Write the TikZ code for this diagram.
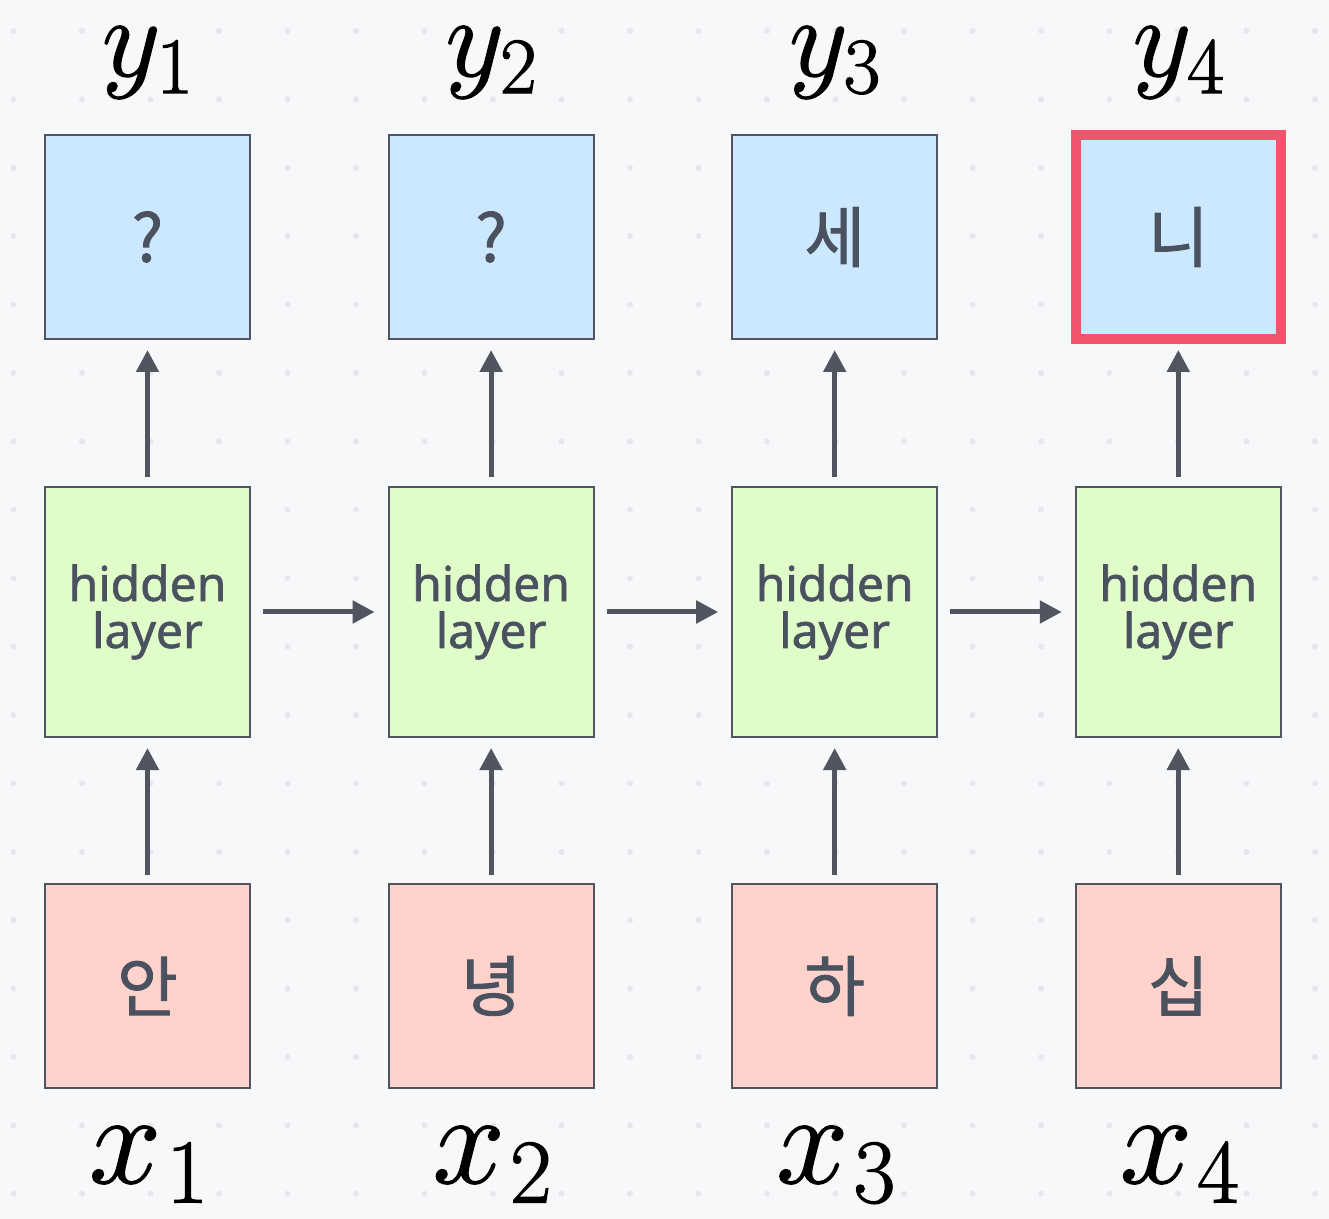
\RequirePackage{fix-cm}
\documentclass[tikz,border=0pt]{standalone}
\usepackage{fontspec}
\setmainfont{Noto Sans}
\newfontfamily\hid{Noto Sans}[FakeBold=1.3]
\newfontfamily\kr{Noto Sans CJK KR}[FakeBold=1.3]
\usetikzlibrary{arrows.meta}
\definecolor{bgcol}{HTML}{F7F8FA}
\definecolor{dotcol}{HTML}{E6E7EB}
\definecolor{linecol}{HTML}{50555F}
\definecolor{txtcol}{HTML}{4A5260}
\definecolor{bluefill}{HTML}{CCE8FF}
\definecolor{greenfill}{HTML}{E0FCC8}
\definecolor{pinkfill}{HTML}{FFD3CC}
\definecolor{redcol}{HTML}{F2546E}
\newcommand\heavy[1]{\special{pdf:literal direct 2 Tr 0.6 w}#1\special{pdf:literal direct 0 Tr}}
\begin{document}
\begin{tikzpicture}[x=0.5pt,y=-0.5pt,
    box/.style={draw=linecol,line width=1pt,minimum width=102.5pt,inner sep=0pt,outer sep=0pt,text=txtcol},
    outbox/.style={box,fill=bluefill,minimum height=102pt,font=\kr\fontsize{33}{33}\selectfont},
    hidbox/.style={box,fill=greenfill,minimum height=125pt,align=center,font=\hid\fontsize{24}{23.5}\selectfont},
    inbox/.style={box,fill=pinkfill,minimum height=102pt,font=\kr\fontsize{33}{33}\selectfont},
    arr/.style={draw=linecol,line width=2.5pt,-{Triangle[length=11pt,width=11pt]}},
    ylbl/.style={anchor=base,inner sep=0pt,font=\fontsize{57}{57}\selectfont},
    xlbl/.style={anchor=base,inner sep=0pt,font=\fontsize{65}{65}\selectfont}]
    \fill[bgcol] (0,0) rectangle (1329,1219);
    \useasboundingbox (0,0) rectangle (1329,1219);
    % dotted grid
    \foreach \i in {0,...,19} \foreach \j in {0,...,17}
        \fill[dotcol] ({13.5+68.5*\i},{31+68.4*\j}) circle (1.5pt);
    \foreach \t/\b [count=\i] in {?/안,?/녕,세/하,니/십}{
        \node[outbox] (o\i) at ({147.5+343.6*(\i-1)},237) {\t};
        \node[hidbox] (h\i) at ({147.5+343.6*(\i-1)},612) {hidden\\layer};
        \node[inbox] (in\i) at ({147.5+343.6*(\i-1)},986) {\b};
        \node[ylbl] (yl\i) at ({148+343.6*(\i-1)},76) {\heavy{$y_{\i}$}};
        \node[xlbl] (xl\i) at ({149+343.6*(\i-1)},1183) {\heavy{$x_{\mskip1mu\i}$}};
        \draw[arr,shorten <=5pt,shorten >=5.5pt] (h\i) -- (o\i);
        \draw[arr,shorten <=4.5pt,shorten >=5.5pt] (in\i) -- (h\i);
    }
    \foreach \i/\j in {1/2,2/3,3/4}
        \draw[arr,shorten <=6.5pt,shorten >=7pt] (h\i) -- (h\j);
    \draw[redcol,line width=5.25pt] (o4.north west) rectangle (o4.south east);
\end{tikzpicture}
\end{document}
